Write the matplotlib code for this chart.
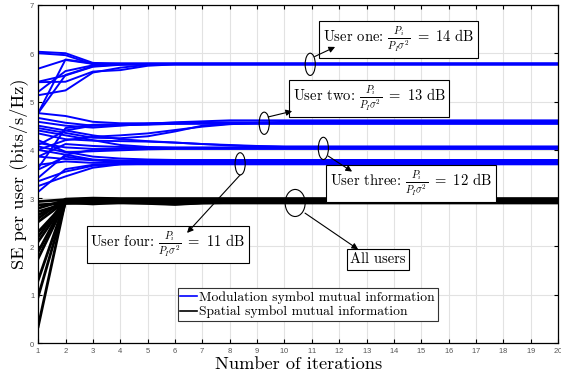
import matplotlib
matplotlib.use("Agg")
import matplotlib.pyplot as plt
from matplotlib.patches import Ellipse

plt.rcParams['font.family'] = ['cmr10', 'DejaVu Serif']
plt.rcParams['mathtext.fontset'] = 'cm'
plt.rcParams['axes.formatter.use_mathtext'] = True

iterations = list(range(1, 21))

# Modulation symbol mutual information, user one (14 dB)
user_one = [
    [6.03, 6.00, 5.80, 5.78, 5.78, 5.78, 5.78, 5.78, 5.78, 5.78, 5.78, 5.78, 5.78, 5.78, 5.78, 5.78, 5.78, 5.78, 5.78, 5.78],
    [6.00, 5.96, 5.77, 5.77, 5.77, 5.77, 5.77, 5.77, 5.77, 5.77, 5.77, 5.77, 5.77, 5.77, 5.77, 5.77, 5.77, 5.77, 5.77, 5.77],
    [5.68, 5.86, 5.78, 5.79, 5.79, 5.79, 5.79, 5.79, 5.79, 5.79, 5.79, 5.79, 5.79, 5.79, 5.79, 5.79, 5.79, 5.79, 5.79, 5.79],
    [5.40, 5.41, 5.62, 5.65, 5.74, 5.77, 5.77, 5.77, 5.77, 5.77, 5.77, 5.77, 5.77, 5.77, 5.77, 5.77, 5.77, 5.77, 5.77, 5.77],
    [5.41, 5.54, 5.72, 5.76, 5.78, 5.78, 5.78, 5.78, 5.78, 5.78, 5.78, 5.78, 5.78, 5.78, 5.78, 5.78, 5.78, 5.78, 5.78, 5.78],
    [5.20, 5.63, 5.75, 5.77, 5.77, 5.77, 5.77, 5.77, 5.77, 5.77, 5.77, 5.77, 5.77, 5.77, 5.77, 5.77, 5.77, 5.77, 5.77, 5.77],
    [5.13, 5.23, 5.60, 5.70, 5.76, 5.78, 5.78, 5.78, 5.78, 5.78, 5.78, 5.78, 5.78, 5.78, 5.78, 5.78, 5.78, 5.78, 5.78, 5.78],
    [4.76, 5.87, 5.79, 5.78, 5.78, 5.78, 5.78, 5.78, 5.78, 5.78, 5.78, 5.78, 5.78, 5.78, 5.78, 5.78, 5.78, 5.78, 5.78, 5.78],
    [4.76, 5.55, 5.73, 5.77, 5.77, 5.77, 5.77, 5.77, 5.77, 5.77, 5.77, 5.77, 5.77, 5.77, 5.77, 5.77, 5.77, 5.77, 5.77, 5.77],
]

# user two (13 dB)
user_two = [
    [4.76, 4.70, 4.58, 4.55, 4.55, 4.56, 4.57, 4.57, 4.57, 4.57, 4.57, 4.57, 4.57, 4.57, 4.57, 4.57, 4.57, 4.57, 4.57, 4.57],
    [4.66, 4.56, 4.50, 4.52, 4.53, 4.55, 4.55, 4.55, 4.55, 4.55, 4.55, 4.55, 4.55, 4.55, 4.55, 4.55, 4.55, 4.55, 4.55, 4.55],
    [4.58, 4.50, 4.46, 4.50, 4.54, 4.57, 4.59, 4.61, 4.61, 4.61, 4.61, 4.61, 4.61, 4.61, 4.61, 4.61, 4.61, 4.61, 4.61, 4.61],
    [4.10, 4.40, 4.50, 4.51, 4.52, 4.54, 4.55, 4.55, 4.55, 4.55, 4.55, 4.55, 4.55, 4.55, 4.55, 4.55, 4.55, 4.55, 4.55, 4.55],
    [3.62, 4.45, 4.52, 4.53, 4.54, 4.54, 4.54, 4.54, 4.54, 4.54, 4.54, 4.54, 4.54, 4.54, 4.54, 4.54, 4.54, 4.54, 4.54, 4.54],
    [4.45, 4.35, 4.25, 4.24, 4.28, 4.38, 4.50, 4.54, 4.55, 4.55, 4.55, 4.55, 4.55, 4.55, 4.55, 4.55, 4.55, 4.55, 4.55, 4.55],
    [4.00, 4.20, 4.27, 4.30, 4.34, 4.41, 4.48, 4.53, 4.56, 4.58, 4.58, 4.58, 4.58, 4.58, 4.58, 4.58, 4.58, 4.58, 4.58, 4.58],
]

# user three (12 dB)
user_three = [
    [4.50, 4.40, 4.30, 4.22, 4.18, 4.15, 4.12, 4.09, 4.07, 4.06, 4.06, 4.06, 4.06, 4.06, 4.06, 4.06, 4.06, 4.06, 4.06, 4.06],
    [4.34, 4.22, 4.19, 4.18, 4.17, 4.15, 4.12, 4.10, 4.08, 4.07, 4.07, 4.07, 4.07, 4.07, 4.07, 4.07, 4.07, 4.07, 4.07, 4.07],
    [4.14, 4.05, 4.02, 4.03, 4.03, 4.03, 4.03, 4.03, 4.03, 4.03, 4.03, 4.03, 4.03, 4.03, 4.03, 4.03, 4.03, 4.03, 4.03, 4.03],
    [3.42, 3.90, 4.00, 4.02, 4.03, 4.03, 4.03, 4.03, 4.03, 4.03, 4.03, 4.03, 4.03, 4.03, 4.03, 4.03, 4.03, 4.03, 4.03, 4.03],
    [3.86, 4.12, 4.08, 4.06, 4.05, 4.05, 4.05, 4.05, 4.05, 4.05, 4.05, 4.05, 4.05, 4.05, 4.05, 4.05, 4.05, 4.05, 4.05, 4.05],
    [4.07, 3.95, 3.97, 3.99, 4.01, 4.02, 4.02, 4.02, 4.02, 4.02, 4.02, 4.02, 4.02, 4.02, 4.02, 4.02, 4.02, 4.02, 4.02, 4.02],
    [4.40, 4.30, 4.20, 4.10, 4.06, 4.04, 4.04, 4.04, 4.04, 4.04, 4.04, 4.04, 4.04, 4.04, 4.04, 4.04, 4.04, 4.04, 4.04, 4.04],
]

# user four (11 dB)
user_four = [
    [3.69, 3.76, 3.73, 3.73, 3.73, 3.73, 3.73, 3.73, 3.73, 3.73, 3.73, 3.73, 3.73, 3.73, 3.73, 3.73, 3.73, 3.73, 3.73, 3.73],
    [3.59, 3.86, 3.78, 3.75, 3.74, 3.74, 3.74, 3.74, 3.74, 3.74, 3.74, 3.74, 3.74, 3.74, 3.74, 3.74, 3.74, 3.74, 3.74, 3.74],
    [4.00, 3.90, 3.80, 3.77, 3.76, 3.76, 3.76, 3.76, 3.76, 3.76, 3.76, 3.76, 3.76, 3.76, 3.76, 3.76, 3.76, 3.76, 3.76, 3.76],
    [3.13, 3.60, 3.69, 3.71, 3.72, 3.72, 3.72, 3.72, 3.72, 3.72, 3.72, 3.72, 3.72, 3.72, 3.72, 3.72, 3.72, 3.72, 3.72, 3.72],
    [3.35, 3.55, 3.67, 3.70, 3.71, 3.71, 3.71, 3.71, 3.71, 3.71, 3.71, 3.71, 3.71, 3.71, 3.71, 3.71, 3.71, 3.71, 3.71, 3.71],
    [3.86, 3.81, 3.79, 3.78, 3.78, 3.78, 3.78, 3.78, 3.78, 3.78, 3.78, 3.78, 3.78, 3.78, 3.78, 3.78, 3.78, 3.78, 3.78, 3.78],
    [4.20, 3.96, 3.86, 3.82, 3.80, 3.79, 3.79, 3.79, 3.79, 3.79, 3.79, 3.79, 3.79, 3.79, 3.79, 3.79, 3.79, 3.79, 3.79, 3.79],
    [3.25, 3.45, 3.63, 3.70, 3.70, 3.70, 3.70, 3.70, 3.70, 3.70, 3.70, 3.70, 3.70, 3.70, 3.70, 3.70, 3.70, 3.70, 3.70, 3.70],
]

# Spatial symbol mutual information (all users)
spatial = [
    [2.93, 2.97, 2.95, 2.96, 2.96, 2.96, 2.96, 2.96, 2.96, 2.96, 2.96, 2.96, 2.96, 2.96, 2.96, 2.96, 2.96, 2.96, 2.96, 2.96],
    [2.86, 2.90, 2.92, 2.91, 2.91, 2.91, 2.91, 2.91, 2.91, 2.91, 2.91, 2.91, 2.91, 2.91, 2.91, 2.91, 2.91, 2.91, 2.91, 2.91],
    [2.79, 2.96, 2.99, 2.98, 2.98, 2.98, 2.98, 2.98, 2.98, 2.98, 2.98, 2.98, 2.98, 2.98, 2.98, 2.98, 2.98, 2.98, 2.98, 2.98],
    [2.72, 2.89, 2.90, 2.90, 2.90, 2.88, 2.90, 2.90, 2.90, 2.90, 2.90, 2.90, 2.90, 2.90, 2.90, 2.90, 2.90, 2.90, 2.90, 2.90],
    [2.65, 2.94, 2.95, 2.94, 2.94, 2.94, 2.94, 2.94, 2.94, 2.94, 2.94, 2.94, 2.94, 2.94, 2.94, 2.94, 2.94, 2.94, 2.94, 2.94],
    [2.58, 2.98, 3.00, 2.99, 2.99, 2.99, 2.99, 2.99, 2.99, 2.99, 2.99, 2.99, 2.99, 2.99, 2.99, 2.99, 2.99, 2.99, 2.99, 2.99],
    [2.51, 2.93, 2.94, 2.95, 2.95, 2.95, 2.95, 2.95, 2.95, 2.95, 2.95, 2.95, 2.95, 2.95, 2.95, 2.95, 2.95, 2.95, 2.95, 2.95],
    [2.30, 2.91, 2.88, 2.91, 2.89, 2.87, 2.90, 2.91, 2.91, 2.91, 2.91, 2.91, 2.91, 2.91, 2.91, 2.91, 2.91, 2.91, 2.91, 2.91],
    [2.20, 2.96, 2.96, 2.97, 2.97, 2.97, 2.97, 2.97, 2.97, 2.97, 2.97, 2.97, 2.97, 2.97, 2.97, 2.97, 2.97, 2.97, 2.97, 2.97],
    [2.10, 2.92, 2.94, 2.93, 2.93, 2.93, 2.93, 2.93, 2.93, 2.93, 2.93, 2.93, 2.93, 2.93, 2.93, 2.93, 2.93, 2.93, 2.93, 2.93],
    [1.89, 2.95, 2.96, 2.95, 2.96, 2.96, 2.96, 2.96, 2.96, 2.96, 2.96, 2.96, 2.96, 2.96, 2.96, 2.96, 2.96, 2.96, 2.96, 2.96],
    [1.75, 2.93, 2.93, 2.94, 2.94, 2.94, 2.94, 2.94, 2.94, 2.94, 2.94, 2.94, 2.94, 2.94, 2.94, 2.94, 2.94, 2.94, 2.94, 2.94],
    [1.30, 2.94, 2.95, 2.96, 2.95, 2.95, 2.95, 2.95, 2.95, 2.95, 2.95, 2.95, 2.95, 2.95, 2.95, 2.95, 2.95, 2.95, 2.95, 2.95],
    [0.96, 2.92, 2.93, 2.92, 2.93, 2.93, 2.93, 2.93, 2.93, 2.93, 2.93, 2.93, 2.93, 2.93, 2.93, 2.93, 2.93, 2.93, 2.93, 2.93],
    [0.34, 2.95, 2.94, 2.95, 2.95, 2.95, 2.95, 2.95, 2.95, 2.95, 2.95, 2.95, 2.95, 2.95, 2.95, 2.95, 2.95, 2.95, 2.95, 2.95],
]

fig = plt.figure(figsize=(5.61, 3.77), dpi=100)
ax = fig.add_axes([0.068, 0.09, 0.927, 0.897])

# modulation lines (blue)
for group in [user_one, user_two, user_three, user_four]:
    for line in group:
        ax.plot(iterations, line, color=(0, 0, 1), lw=1.4)
# spatial lines (black)
for line in spatial:
    ax.plot(iterations, line, color='k', lw=2.0)

ax.set_xlim(1, 20)
ax.set_ylim(0, 7)
ax.set_xticks(iterations)
ax.set_yticks(range(0, 8))
ax.grid(True, color='#e2e2e2', lw=0.8)
ax.set_axisbelow(True)
ax.tick_params(direction='in', top=True, right=True, length=3, width=0.8,
               labelsize=5.5, labelcolor='#555555', pad=2)
for lab in ax.get_xticklabels() + ax.get_yticklabels():
    lab.set_fontfamily('Liberation Sans')
for sp in ax.spines.values():
    sp.set_linewidth(0.9)

ax.set_xlabel("Number of iterations", fontsize=13.2, labelpad=1)
ax.set_ylabel("SE per user (bits/s/Hz)", fontsize=13.2, labelpad=1)

# legend
ax.plot([], [], color=(0, 0, 1), lw=1.2, label="Modulation symbol mutual information")
ax.plot([], [], color='k', lw=1.2, label="Spatial symbol mutual information")
handles, labels = ax.get_legend_handles_labels()
leg = ax.legend(handles[-2:], labels[-2:], loc='lower left', bbox_to_anchor=(0.255, 0.045),
                fontsize=9.8, handlelength=1.2, handletextpad=0.2, borderpad=0.2,
                labelspacing=0.15, fancybox=False, framealpha=1, edgecolor='#333333')
leg.get_frame().set_linewidth(0.8)

# annotations: ellipses marking each group, arrows to the labels
box = dict(boxstyle='square,pad=0.25', fc='white', ec='black', lw=0.8)
arrow = dict(arrowstyle='-|>', color='black', lw=0.8, mutation_scale=9,
             shrinkA=0, shrinkB=0)

ellipses = [(10.94, 5.77, 0.37, 0.46), (9.26, 4.55, 0.37, 0.46),
            (11.42, 4.03, 0.37, 0.46), (8.38, 3.71, 0.37, 0.46),
            (10.39, 2.90, 0.73, 0.56)]
for (ex, ey, ew, eh) in ellipses:
    ax.add_patch(Ellipse((ex, ey), ew, eh, fill=False, ec='black', lw=0.8, zorder=5))

frac = r"$\frac{P_i}{P_I\sigma^2}\ =\ %d$ dB"
labels_txt = ["User one: " + frac % 14, "User two: " + frac % 13,
              "User three: " + frac % 12, "User four: " + frac % 11, "All users"]
label_pos = [(11.4, 6.29), (10.3, 5.06), (11.66, 3.31), (2.9, 2.04), (12.4, 1.73)]
arrow_from = [(11.1, 5.93), (9.4, 4.68), (11.6, 3.87), (8.38, 3.48), (10.75, 2.69)]
arrow_to = [(11.85, 6.13), (10.28, 4.80), (12.47, 3.55), (6.44, 2.28), (12.69, 1.94)]

for txt, (tx, ty) in zip(labels_txt, label_pos):
    ax.text(tx, ty, txt, fontsize=10.5, ha='left', va='center', bbox=box, zorder=6)
for (sx, sy), (tx, ty) in zip(arrow_from, arrow_to):
    ax.annotate("", xy=(tx, ty), xytext=(sx, sy), arrowprops=arrow, zorder=6)

fig.savefig("out.png", dpi=100)
